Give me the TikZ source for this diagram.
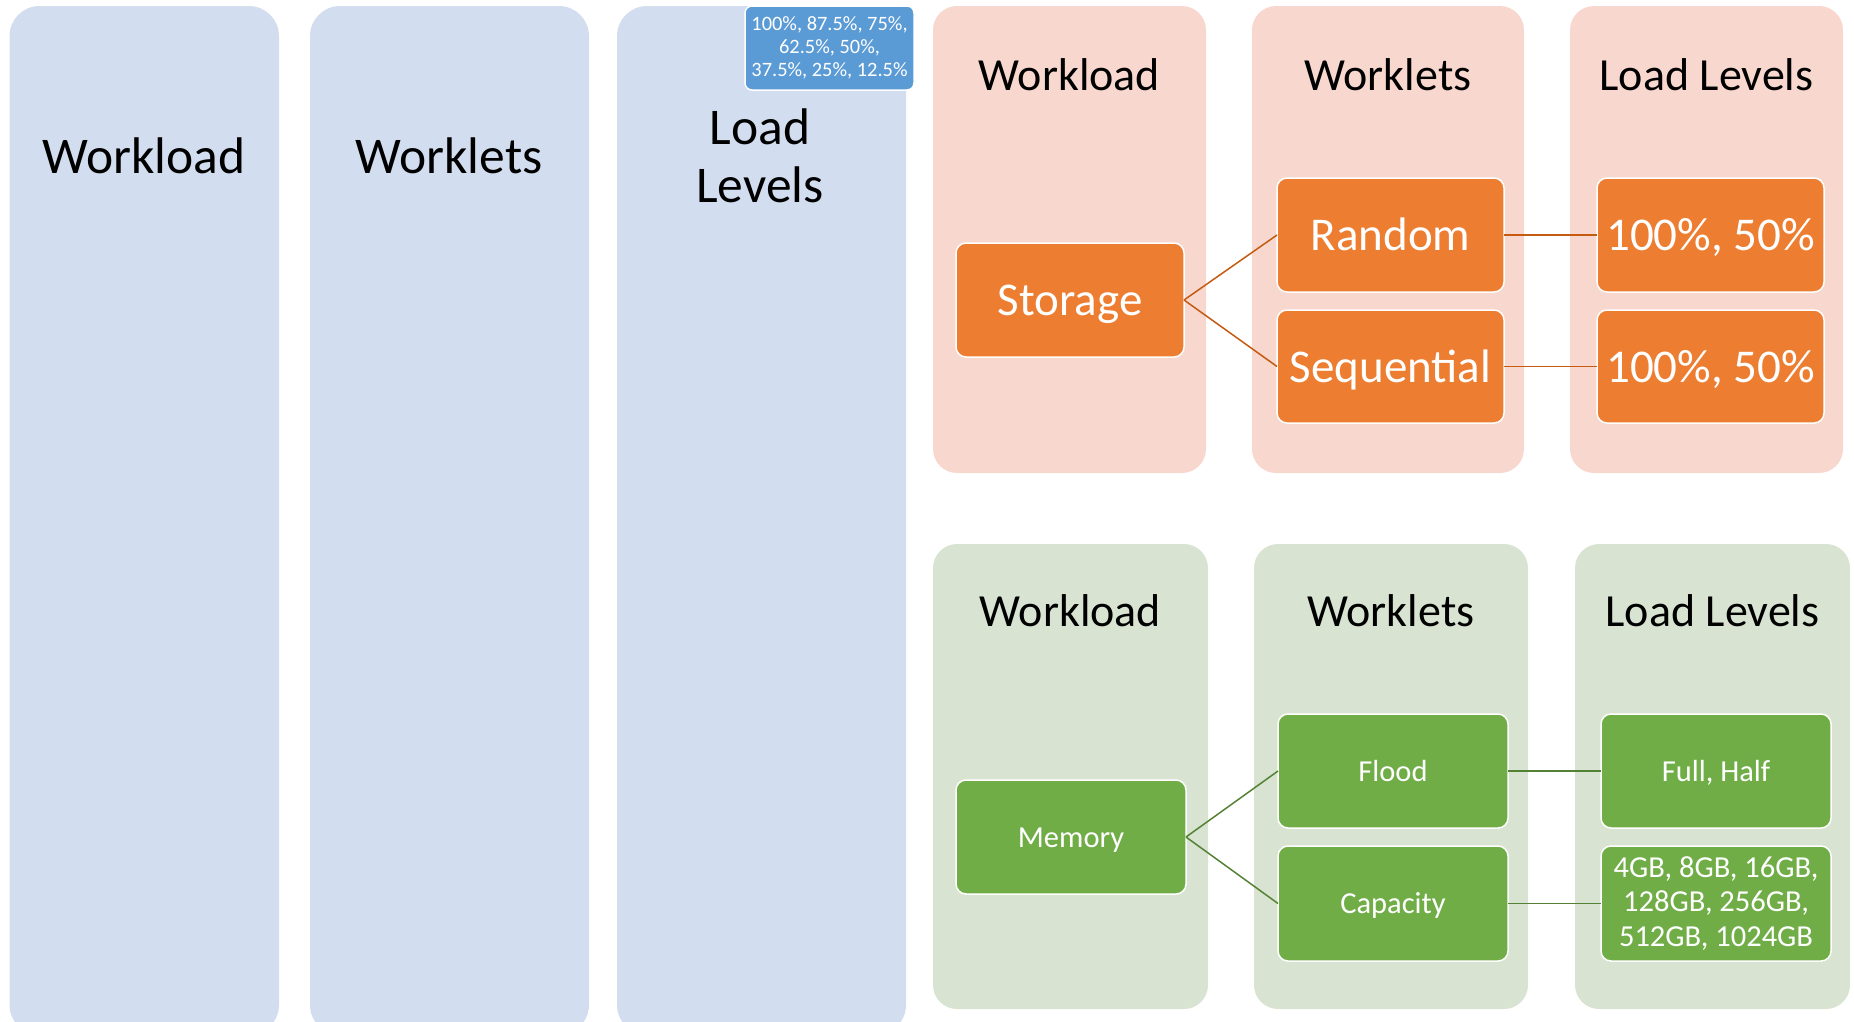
\documentclass[tikz,border=0pt]{standalone}
\usepackage{fontspec}
\setmainfont{Carlito}
\definecolor{bluepale}{HTML}{D2DEEF}
\definecolor{bluebox}{HTML}{5B9BD5}
\definecolor{orpale}{HTML}{F8D8CE}
\definecolor{orbox}{HTML}{ED7D31}
\definecolor{orline}{HTML}{C55A11}
\definecolor{grpale}{HTML}{D8E4D1}
\definecolor{grbox}{HTML}{70AD47}
\definecolor{grline}{HTML}{548235}
\tikzset{
  col/.style={rectangle, inner sep=0pt, outer sep=0pt, draw=none},
  bluecol/.style={col, fill=bluepale, rounded corners=30pt},
  orcol/.style={col, fill=orpale, rounded corners=24pt},
  grcol/.style={col, fill=grpale, rounded corners=24pt},
  bighead/.style={text=black, font=\fontsize{51.5}{58}\selectfont, align=center, inner sep=0pt},
  head/.style={text=black, font=\fontsize{46}{52}\selectfont, align=center, inner sep=0pt},
  box/.style={rectangle, draw=white, line width=1.5pt, rounded corners=10pt, text=white, align=center, inner sep=0pt, outer sep=0pt},
  obox/.style={box, fill=orbox, font=\fontsize{47}{54}\selectfont, text height=31pt, text depth=0pt},
  gbox/.style={box, fill=grbox, font=\fontsize{30.5}{34.5}\selectfont},
  gone/.style={text height=20pt, text depth=0pt},
  sbox/.style={box, fill=bluebox, rounded corners=7pt, font=\fontsize{20.4}{23}\selectfont},
  oline/.style={draw=orline, line width=1.5pt},
  gline/.style={draw=grline, line width=1.5pt},
}
\begin{document}
\begin{tikzpicture}[x=1pt,y=-1pt]
\clip (0,0) rectangle (1854,1021);
\useasboundingbox (0,0) rectangle (1854,1021);
% blue columns
\node[bluecol, minimum width=269.5pt, minimum height=1029pt] (bc1) at (144.25,520.5) {};
\node[bluecol, minimum width=279pt, minimum height=1029pt] (bc2) at (449.5,520.5) {};
\node[bluecol, minimum width=289pt, minimum height=1029pt] (bc3) at (761.5,520.5) {};
\node[bighead] (bh1) at (144,156) {Workload};
\node[bighead] (bh2) at (449,156) {Worklets};
\node[bighead] (bh3) at (760,156) {Load\\Levels};
\node[sbox, minimum width=169pt, minimum height=84pt] (bs) at (829.5,48) {100\%, 87.5\%, 75\%,\\62.5\%, 50\%,\\37.5\%, 25\%, 12.5\%};
% orange columns
\node[orcol, minimum width=273pt, minimum height=467pt] (oc1) at (1069.5,239.5) {};
\node[orcol, minimum width=272pt, minimum height=467pt] (oc2) at (1388,239.5) {};
\node[orcol, minimum width=273pt, minimum height=467pt] (oc3) at (1706.5,239.5) {};
\node[head] (oh1) at (1069.5,74.5) {Workload};
\node[head] (oh2) at (1388,74.5) {Worklets};
\node[head] (oh3) at (1706.5,74.5) {Load Levels};
\node[obox, minimum width=228pt, minimum height=114pt] (storage) at (1070,300) {Storage};
\node[obox, minimum width=227pt, minimum height=114pt] (random) at (1390.5,235) {Random};
\node[obox, minimum width=227pt, minimum height=113pt] (seq) at (1390.5,366.5) {Sequential};
\node[obox, minimum width=227pt, minimum height=114pt] (rl) at (1710.5,235) {100\%, 50\%};
\node[obox, minimum width=227pt, minimum height=113pt] (sl) at (1710.5,366.5) {100\%, 50\%};
\draw[oline] (storage.east) -- (random.west);
\draw[oline] (storage.east) -- (seq.west);
\draw[oline] (random.east) -- (rl.west);
\draw[oline] (seq.east) -- (sl.west);
% green columns
\node[grcol, minimum width=275pt, minimum height=465pt] (gc1) at (1070.5,776.5) {};
\node[grcol, minimum width=274pt, minimum height=465pt] (gc2) at (1391,776.5) {};
\node[grcol, minimum width=275pt, minimum height=465pt] (gc3) at (1712.5,776.5) {};
\node[head] (gh1) at (1070.5,611) {Workload};
\node[head] (gh2) at (1391,611) {Worklets};
\node[head] (gh3) at (1712.5,611) {Load Levels};
\node[gbox, gone, minimum width=230pt, minimum height=114pt] (memory) at (1071,837) {Memory};
\node[gbox, gone, minimum width=230pt, minimum height=114pt] (flood) at (1393,771) {Flood};
\node[gbox, gone, minimum width=230pt, minimum height=115pt] (capacity) at (1393,903.5) {Capacity};
\node[gbox, gone, minimum width=230pt, minimum height=114pt] (fl) at (1716,771) {Full, Half};
\node[gbox, minimum width=230pt, minimum height=115pt] (cl) at (1716,903.5) {4GB, 8GB, 16GB,\\128GB, 256GB,\\512GB, 1024GB};
\draw[gline] (memory.east) -- (flood.west);
\draw[gline] (memory.east) -- (capacity.west);
\draw[gline] (flood.east) -- (fl.west);
\draw[gline] (capacity.east) -- (cl.west);
\end{tikzpicture}
\end{document}
